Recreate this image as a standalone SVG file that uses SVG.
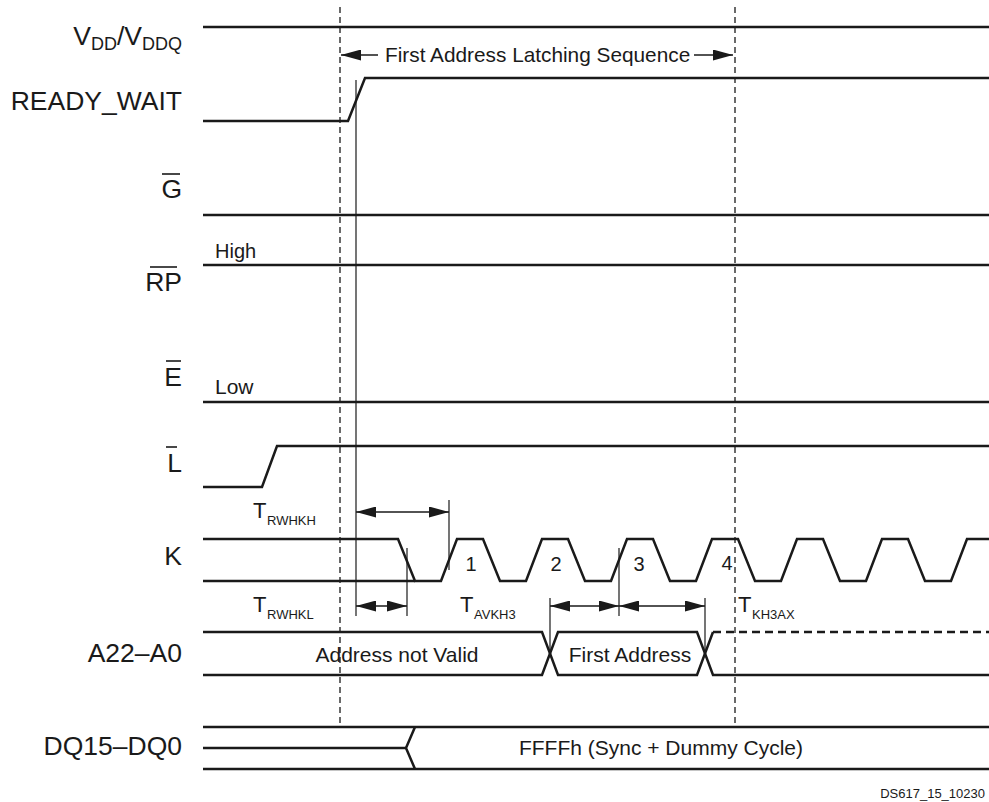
<svg xmlns="http://www.w3.org/2000/svg" width="989" height="802" viewBox="0 0 989 802">
<style>
text{font-family:"Liberation Sans",Arial,Helvetica,sans-serif;fill:#1a1a1a}
.lbl{font-size:26.5px;text-anchor:end}
.sub{font-size:18px}
.sig{fill:none;stroke:#1a1a1a;stroke-width:2.5;stroke-linejoin:miter}
.ovl{stroke:#1a1a1a;stroke-width:1.6}
.dash{fill:none;stroke:#1a1a1a;stroke-width:1.3;stroke-dasharray:6 4}
.sigdash{fill:none;stroke:#1a1a1a;stroke-width:2.5;stroke-dasharray:8 5}
.thin{fill:none;stroke:#1a1a1a;stroke-width:1.2}
.arr{fill:none;stroke:#1a1a1a;stroke-width:1.4;marker-start:url(#ah);marker-end:url(#ah)}
.arrE{fill:none;stroke:#1a1a1a;stroke-width:1.4;marker-end:url(#ah)}
.arrS{fill:none;stroke:#1a1a1a;stroke-width:1.4;marker-start:url(#ah)}
.bus{font-size:21px;text-anchor:middle}
.num{font-size:20px;text-anchor:middle}
.tm{font-size:22px}
.ts{font-size:13px}
.st{font-size:21px}
</style>
<defs>
<marker id="ah" viewBox="0 0 20 11" refX="20" refY="5.5" markerWidth="20" markerHeight="11" markerUnits="userSpaceOnUse" orient="auto-start-reverse">
<path d="M0,0 L20,5.5 L0,11 z" fill="#1a1a1a"/>
</marker>
</defs>
<rect width="989" height="802" fill="#ffffff"/>

<g id="guides">
<line class="dash" x1="340" y1="7" x2="340" y2="727"/>
<line class="dash" x1="735" y1="7" x2="735" y2="727"/>
</g>

<g id="vdd">
<text class="lbl" x="182" y="45">V<tspan class="sub" dy="5">DD</tspan><tspan dy="-5">/V</tspan><tspan class="sub" dy="5">DDQ</tspan></text>
<line class="sig" x1="203" y1="27" x2="989" y2="27"/>
</g>

<g id="ready_wait">
<text class="lbl" x="182" y="110">READY_WAIT</text>
<path class="sig" d="M203,121 L348,121 L365,78 L989,78"/>
</g>

<g id="g_bar">
<text class="lbl" x="182" y="198">G</text>
<line class="ovl" x1="162" y1="174" x2="180" y2="174"/>
<line class="sig" x1="203" y1="215" x2="989" y2="215"/>
</g>

<g id="rp_bar">
<text class="st" x="215" y="258" style="font-size:20px">High</text>
<text class="lbl" x="182" y="291">RP</text>
<line class="ovl" x1="150" y1="267" x2="177" y2="267"/>
<line class="sig" x1="203" y1="265" x2="989" y2="265"/>
</g>

<g id="e_bar">
<text class="lbl" x="182" y="386">E</text>
<line class="ovl" x1="166" y1="361" x2="181" y2="361"/>
<text class="st" x="215" y="394">Low</text>
<line class="sig" x1="203" y1="402" x2="989" y2="402"/>
</g>

<g id="l_bar">
<text class="lbl" x="182" y="472">L</text>
<line class="ovl" x1="166" y1="447" x2="177" y2="447"/>
<path class="sig" d="M203,487 L262,487 L277,446 L989,446"/>
</g>

<g id="k">
<text class="lbl" x="182" y="565">K</text>
<line class="sig" x1="203" y1="581" x2="415" y2="581"/>
<path class="sig" d="M203,539 L398,539 L415,581 L441,581 L457,539 L483,539 L500,581 L526,581 L542,539 L568,539 L585,581 L611,581 L627,539 L653,539 L670,581 L696,581 L712,539 L738,539 L755,581 L781,581 L797,539 L823,539 L840,581 L866,581 L882,539 L908,539 L925,581 L951,581 L967,539 L989,539"/>
<text class="num" x="471" y="571">1</text>
<text class="num" x="556" y="571">2</text>
<text class="num" x="639" y="571">3</text>
<text class="num" x="727" y="570">4</text>
</g>

<g id="a22_a0">
<text class="lbl" x="182" y="662">A22–A0</text>
<path class="sig" d="M203,632 L542,632 L558,675 L697,675 L713,632"/>
<path class="sig" d="M203,675 L542,675 L558,632 L697,632 L713,675 L989,675"/>
<line class="sigdash" x1="713" y1="632" x2="989" y2="632"/>
<text class="bus" x="397" y="662">Address not Valid</text>
<text class="bus" x="630" y="662">First Address</text>
</g>

<g id="dq15_dq0">
<text class="lbl" x="182" y="755">DQ15–DQ0</text>
<line class="sig" x1="203" y1="727" x2="989" y2="727"/>
<line class="sig" x1="203" y1="769" x2="989" y2="769"/>
<line class="sig" x1="203" y1="748" x2="406" y2="748"/>
<path class="sig" d="M415,727 L406,748 L415,769"/>
<text class="bus" x="661" y="755">FFFFh (Sync + Dummy Cycle)</text>
</g>

<g id="connectors">
<line class="arrS" x1="341" y1="55" x2="378" y2="55"/>
<line class="arrE" x1="694" y1="55" x2="733" y2="55"/>
<text x="385" y="62" style="font-size:20.8px">First Address Latching Sequence</text>

<line class="thin" x1="356" y1="80" x2="356" y2="616"/>
<line class="thin" x1="449" y1="500" x2="449" y2="570"/>
<line class="thin" x1="407" y1="548" x2="407" y2="616"/>
<line class="thin" x1="619" y1="548" x2="619" y2="616"/>
<line class="thin" x1="550" y1="598" x2="550" y2="653"/>
<line class="thin" x1="705" y1="598" x2="705" y2="653"/>

<line class="arr" x1="356" y1="512" x2="449" y2="512"/>
<line class="arr" x1="356" y1="606" x2="407" y2="606"/>
<line class="arr" x1="550" y1="606" x2="619" y2="606"/>
<line class="arr" x1="619" y1="606" x2="705" y2="606"/>

<text class="tm" x="253" y="518">T</text><text class="ts" x="267" y="525">RWHKH</text>
<text class="tm" x="253" y="612">T</text><text class="ts" x="267" y="619">RWHKL</text>
<text class="tm" x="460" y="612">T</text><text class="ts" x="474" y="619">AVKH3</text>
<text class="tm" x="738" y="612">T</text><text class="ts" x="752" y="619">KH3AX</text>
</g>

<text x="985" y="798" style="font-size:13px;text-anchor:end">DS617_15_10230</text>
</svg>
